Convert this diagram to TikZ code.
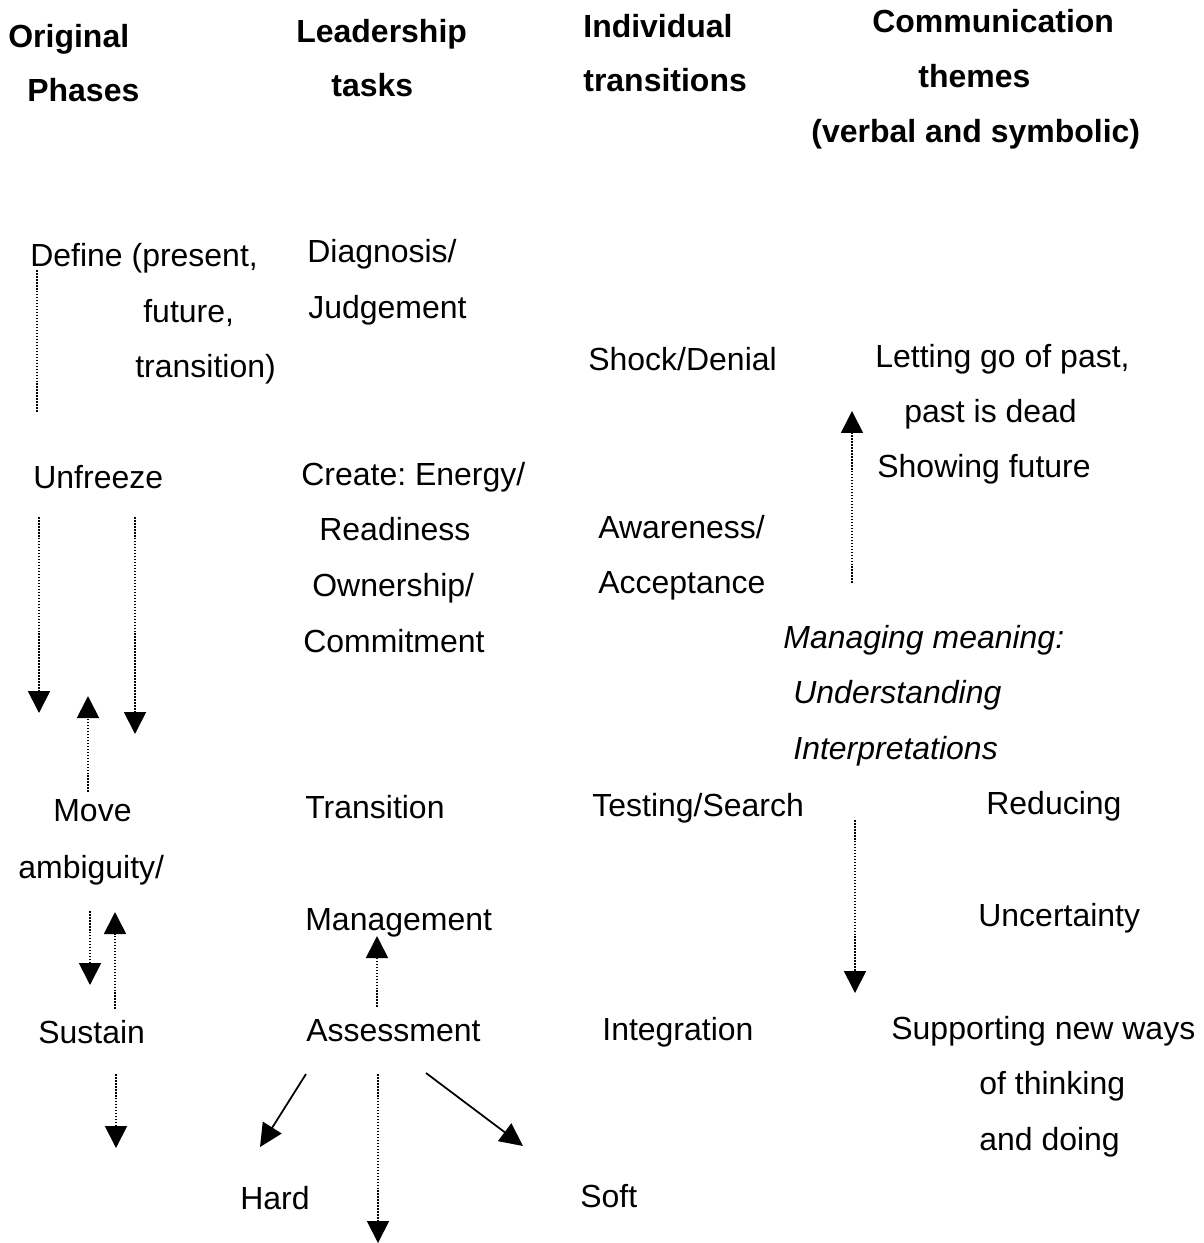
\documentclass[tikz,border=0pt]{standalone}
\usepackage{fontspec}
\setmainfont{Liberation Sans}
\usetikzlibrary{arrows.meta}
\frenchspacing
\begin{document}
\begin{tikzpicture}[x=0.02cm, y=-0.02cm,
  txt/.style={anchor=base west, inner sep=0pt, font=\fontsize{18.2}{21}\selectfont},
  hd/.style={txt, font=\fontsize{18.2}{21}\selectfont\bfseries},
  it/.style={txt, font=\fontsize{18.2}{21}\selectfont\itshape},
  dotline/.style={line width=1pt, dash pattern=on 0.9pt off 0.8pt},
  dotarrow/.style={dotline, -{Triangle[length=0.44cm,width=0.44cm]}},
  solidarrow/.style={line width=1pt, -{Triangle[length=0.46cm,width=0.44cm]}}]
\useasboundingbox (0,0) rectangle (1203,1243);

% column headings
\node[hd] (h1a) at (8,48) {Original};
\node[hd] (h1b) at (27,102) {Phases};
\node[hd] (h2a) at (296,43) {Leadership};
\node[hd] (h2b) at (331,97) {tasks};
\node[hd] (h3a) at (583,38) {Individual};
\node[hd] (h3b) at (583,92) {transitions};
\node[hd] (h4a) at (872,33) {Communication};
\node[hd] (h4b) at (918,88) {themes};
\node[hd] (h4c) at (811,143) {(verbal and symbolic)};

% original phases
\node[txt] (define) at (30,267) {Define (present,};
\node[txt] (future) at (143,322) {future,};
\node[txt] (trans) at (135,377) {transition)};
\node[txt] (unfreeze) at (33,488) {Unfreeze};
\node[txt] (move) at (53,821) {Move};
\node[txt] (ambig) at (18,878) {ambiguity/};
\node[txt] (sustain) at (38,1043) {Sustain};

% leadership tasks
\node[txt] (diag) at (307,263) {Diagnosis/};
\node[txt] (judg) at (308,318) {Judgement};
\node[txt] (create) at (301,485) {Create: Energy/};
\node[txt] (ready) at (319,540) {Readiness};
\node[txt] (owner) at (312,596) {Ownership/};
\node[txt] (commit) at (303,652) {Commitment};
\node[txt] (transition) at (305,818) {Transition};
\node[txt] (manage) at (305,930) {Management};
\node[txt] (assess) at (306,1041) {Assessment};
\node[txt] (hard) at (240,1209) {Hard};
\node[txt] (soft) at (580,1207) {Soft};

% individual transitions
\node[txt] (shock) at (588,370) {Shock/Denial};
\node[txt] (aware) at (598,538) {Awareness/};
\node[txt] (accept) at (598,593) {Acceptance};
\node[txt] (testing) at (592,816) {Testing/Search};
\node[txt] (integr) at (602,1040) {Integration};

% communication themes
\node[txt] (letgo) at (875,367) {Letting go of past,};
\node[txt] (dead) at (904,422) {past is dead};
\node[txt] (showing) at (877,477) {Showing future};
\node[it] (meaning) at (783,648) {Managing meaning:};
\node[it] (underst) at (793,703) {Understanding};
\node[it] (interp) at (793,759) {Interpretations};
\node[txt] (reduc) at (986,814) {Reducing};
\node[txt] (uncert) at (978,926) {Uncertainty};
\node[txt] (support) at (891,1039) {Supporting new ways};
\node[txt] (thinking) at (979,1094) {of thinking};
\node[txt] (doing) at (979,1150) {and doing};

% arrow end points
\coordinate (d0) at (37,270);  \coordinate (d1) at (37,412);
\coordinate (u0) at (39,517);  \coordinate (u1) at (39,713);
\coordinate (v0) at (135,517); \coordinate (v1) at (135,734);
\coordinate (m0) at (88,792);  \coordinate (m1) at (88,696);
\coordinate (a0) at (90,911);  \coordinate (a1) at (90,985);
\coordinate (b0) at (115,1009); \coordinate (b1) at (115,912);
\coordinate (s0) at (116,1074); \coordinate (s1) at (116,1148);
\coordinate (g0) at (377,1007); \coordinate (g1) at (377,936);
\coordinate (k0) at (378,1074); \coordinate (k1) at (378,1243);
\coordinate (hd0) at (306,1074); \coordinate (hd1) at (260,1147);
\coordinate (sf0) at (426,1073); \coordinate (sf1) at (523,1146);
\coordinate (r0) at (852,583); \coordinate (r1) at (852,411);
\coordinate (t0) at (855,820); \coordinate (t1) at (855,993);

% connectors
\draw[dotline] (d0) -- (d1);
\draw[dotarrow] (u0) -- (u1);
\draw[dotarrow] (v0) -- (v1);
\draw[dotarrow] (m0) -- (m1);
\draw[dotarrow] (a0) -- (a1);
\draw[dotarrow] (b0) -- (b1);
\draw[dotarrow] (s0) -- (s1);
\draw[dotarrow] (g0) -- (g1);
\draw[dotarrow] (k0) -- (k1);
\draw[solidarrow] (hd0) -- (hd1);
\draw[solidarrow] (sf0) -- (sf1);
\draw[dotarrow] (r0) -- (r1);
\draw[dotarrow] (t0) -- (t1);
\end{tikzpicture}
\end{document}
